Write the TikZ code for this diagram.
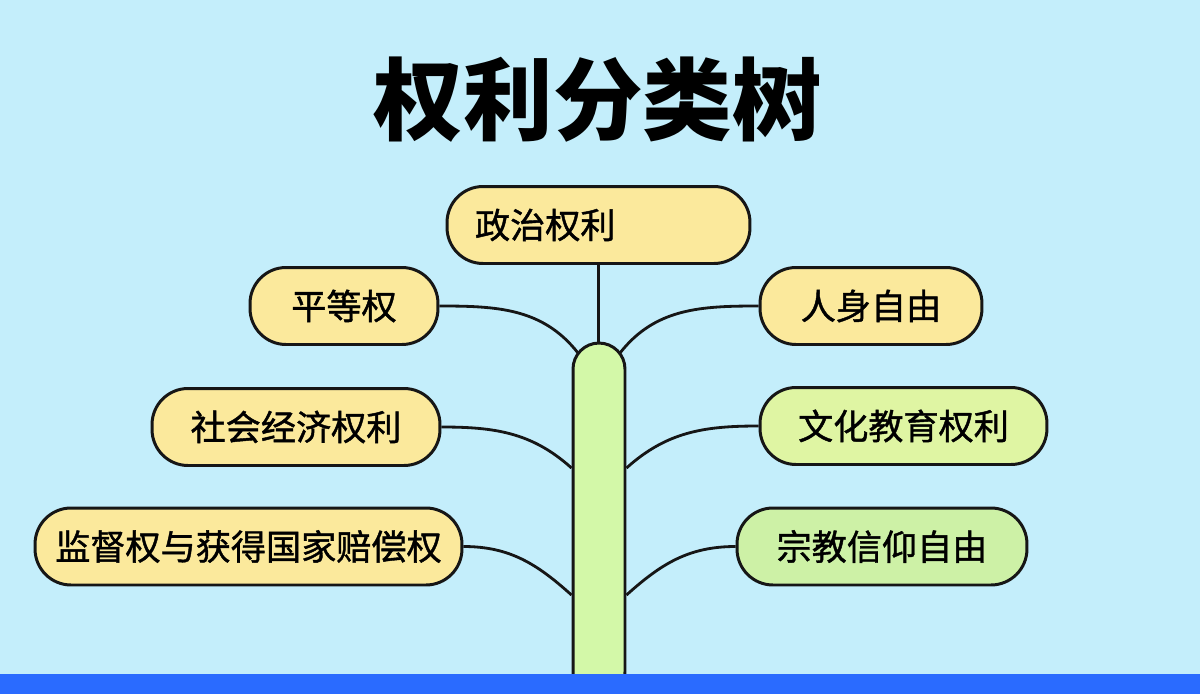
\documentclass[tikz,border=0pt]{standalone}
\usepackage{fontspec}
\setmainfont{Noto Sans CJK SC}
\newfontfamily\cjkmed[FakeBold=1.2]{Noto Sans CJK SC}
\usepackage{xcolor}
\definecolor{cSky}{HTML}{C4EEFB}
\definecolor{cBar}{HTML}{2A6BFF}
\definecolor{cInk}{HTML}{161616}
\definecolor{cYellow}{HTML}{FBE99C}
\definecolor{cLime}{HTML}{DFF5A3}
\definecolor{cGreen}{HTML}{CDF1A6}
\definecolor{cTrunk}{HTML}{D3F8A8}
\usepackage{tikz}
\usetikzlibrary{positioning,calc}
\tikzset{
  node-leaf/.style={draw=cInk,line width=1.7pt,rounded corners=0.72cm,
    fill=cYellow,minimum height=1.54cm,inner xsep=0.5cm,
    font=\cjkmed\fontsize{20}{24}\selectfont},
  node-lime/.style={fill=cLime},
  node-green/.style={fill=cGreen},
  node-trunk/.style={draw=cInk,line width=1.7pt,fill=cTrunk,inner sep=0pt,
    minimum width=1.04cm,minimum height=7.1cm,rounded corners=0.52cm},
  branch/.style={draw=cInk,line width=1.6pt},
}

\begin{document}
\begin{tikzpicture}[x=0.02cm,y=-0.02cm]
  \useasboundingbox (0,0) rectangle (1200,693);
  \fill[cSky] (0,0) rectangle (1200,693);
  \node[font=\fontsize{51}{60}\selectfont\bfseries] (title) at (598,100) {权利分类树};
  % trunk
  \node[node-trunk] (trunk) at (599,520.5) {};
  \coordinate (tl) at (578,353);
  \coordinate (tr) at (620,353);
  \coordinate (ml) at (trunk.west |- 0,468);
  \coordinate (mr) at (trunk.east |- 0,468);
  \coordinate (bl) at (trunk.west |- 0,595);
  \coordinate (br) at (trunk.east |- 0,595);
  % leaves
  \node[node-leaf,text width=4.94cm,inner xsep=0.56cm,align=left] (zz) at (598.5,225) {政治权利};
  \node[node-leaf,minimum width=3.76cm] (pd) at (344,306) {平等权};
  \node[node-leaf,minimum width=5.76cm] (sh) at (296,427) {社会经济权利};
  \node[node-leaf,minimum width=8.54cm,inner xsep=0.3cm] (jd) at (248.5,546.5) {监督权与获得国家赔偿权};
  \node[node-leaf,minimum width=4.44cm] (rs) at (871,306) {人身自由};
  \node[node-leaf,node-lime,minimum width=5.74cm] (wh) at (903.5,426) {文化教育权利};
  \node[node-leaf,node-green,minimum width=5.8cm] (zj) at (882,546.5) {宗教信仰自由};
  % branches
  \draw[branch] (zz.south) -- (zz.south |- trunk.north);
  \draw[branch] (pd.east) to[out=0,in=128] (tl);
  \draw[branch] (sh.east) to[out=0,in=138] (ml);
  \draw[branch] (jd.east) to[out=0,in=138] (bl);
  \draw[branch] (rs.west) to[out=180,in=52] (tr);
  \draw[branch] (wh.west) to[out=180,in=42] (mr);
  \draw[branch] (zj.west) to[out=180,in=42] (br);
  \fill[cBar] (-20,674) rectangle (1220,760);
\end{tikzpicture}
\end{document}
